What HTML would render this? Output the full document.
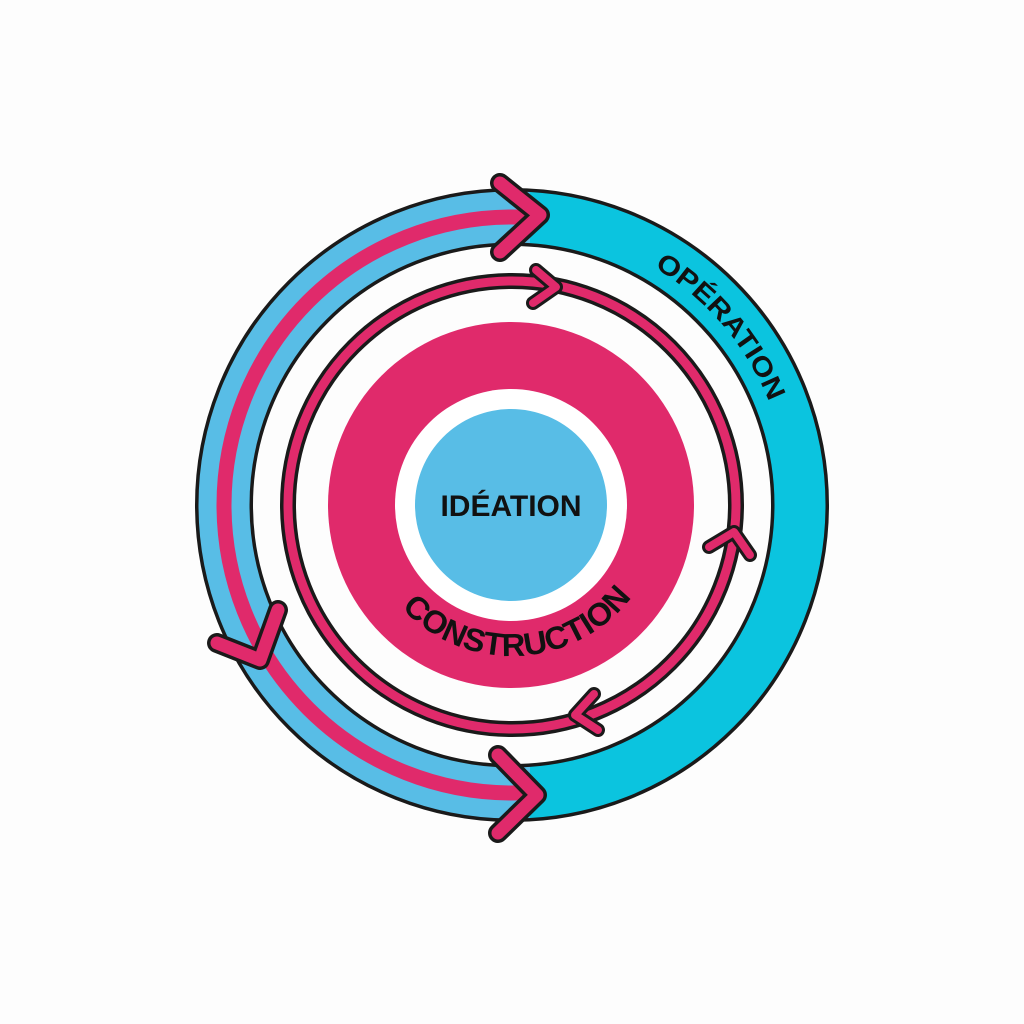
<!DOCTYPE html>
<html><head><meta charset="utf-8"><style>html,body{margin:0;padding:0;background:#fdfdfd}svg{display:block}</style></head>
<body>
<svg width="1024" height="1024" viewBox="0 0 1024 1024" xmlns="http://www.w3.org/2000/svg">
<defs>
<clipPath id="L"><rect x="0" y="0" width="530" height="1024"/></clipPath>
<clipPath id="R"><rect x="530" y="0" width="500" height="1024"/></clipPath>
<path id="opPath" d="M 235 505 A 277 277 0 0 1 789 505"/>
<path id="coPath" d="M 361 505 A 151 151 0 0 0 663 505"/>
</defs>
<rect width="1024" height="1024" fill="#fdfdfd"/>
<circle cx="512" cy="505" r="288" fill="none" stroke="#1a1a1a" stroke-width="58"/>
<circle cx="512" cy="505" r="288" fill="none" stroke="#58bde6" stroke-width="51" clip-path="url(#L)"/>
<circle cx="512" cy="505" r="288" fill="none" stroke="#0bc4df" stroke-width="51" clip-path="url(#R)"/>
<circle cx="512" cy="505" r="288" fill="none" stroke="#e02a6b" stroke-width="15" clip-path="url(#L)"/>
<circle cx="512" cy="505" r="224" fill="none" stroke="#1a1a1a" stroke-width="16"/>
<circle cx="512" cy="505" r="224" fill="none" stroke="#e02a6b" stroke-width="9"/>
<circle cx="511" cy="505" r="183" fill="#e02a6b"/>
<circle cx="511" cy="505" r="116" fill="#ffffff"/>
<circle cx="511" cy="505" r="96" fill="#58bde6"/>
<g fill="none" stroke-linecap="round" stroke-linejoin="round">
<polyline points="500,183 540,215 500,252" stroke="#1a1a1a" stroke-width="20"/>
<polyline points="500,183 540,215 500,252" stroke="#e02a6b" stroke-width="13"/>
<polyline points="278,610 260,660 217,643" stroke="#1a1a1a" stroke-width="20"/>
<polyline points="278,610 260,660 217,643" stroke="#e02a6b" stroke-width="13"/>
<polyline points="498,755 537,795 498,833" stroke="#1a1a1a" stroke-width="20"/>
<polyline points="498,755 537,795 498,833" stroke="#e02a6b" stroke-width="13"/>
<polyline points="536,270 556,287 533,303" stroke="#1a1a1a" stroke-width="14"/>
<polyline points="536,270 556,287 533,303" stroke="#e02a6b" stroke-width="8"/>
<polyline points="709,547 734,532 750,555" stroke="#1a1a1a" stroke-width="14"/>
<polyline points="709,547 734,532 750,555" stroke="#e02a6b" stroke-width="8"/>
<polyline points="594,694 575,715 598,730" stroke="#1a1a1a" stroke-width="14"/>
<polyline points="594,694 575,715 598,730" stroke="#e02a6b" stroke-width="8"/>
</g>
<text x="511" y="516" text-anchor="middle" font-family="Liberation Sans, sans-serif" font-weight="bold" font-size="30" fill="#111">IDÉATION</text>
<text font-family="Liberation Sans, sans-serif" font-weight="bold" font-size="27" fill="#111" text-anchor="middle">
<textPath href="#opPath" startOffset="77.5%" textLength="180" lengthAdjust="spacingAndGlyphs">OPÉRATION</textPath></text>
<text font-family="Liberation Sans, sans-serif" font-weight="bold" font-size="32" fill="#111" text-anchor="middle">
<textPath href="#coPath" startOffset="51.5%" textLength="262" lengthAdjust="spacingAndGlyphs">CONSTRUCTION</textPath></text>
</svg>
</body></html>
